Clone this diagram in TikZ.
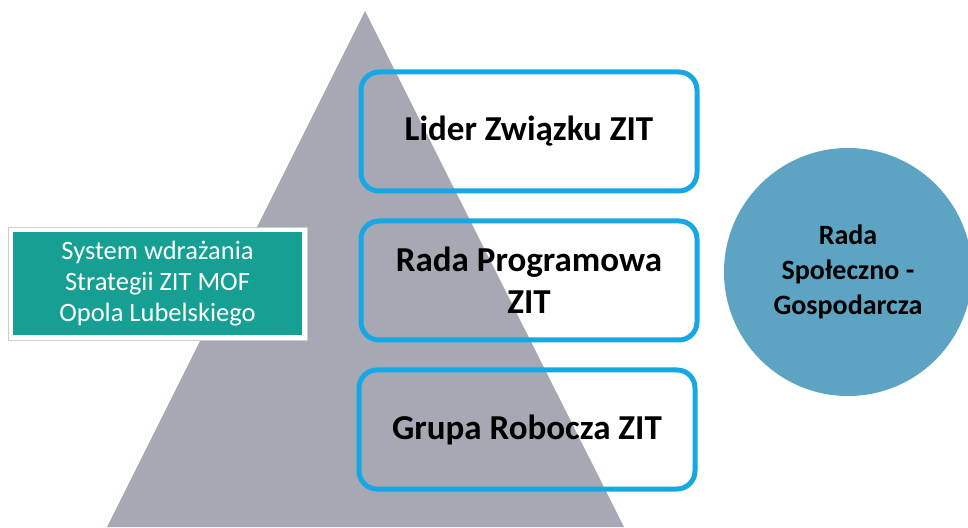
\documentclass[tikz,border=0pt]{standalone}
\usepackage{fontspec}
\setmainfont{Carlito}
\usetikzlibrary{positioning}

\definecolor{pyramid}{RGB}{166,169,180}
\definecolor{frameblue}{RGB}{22,168,228}
\definecolor{sysgreen}{RGB}{22,160,148}
\definecolor{council}{RGB}{92,164,193}

\begin{document}
\begin{tikzpicture}[x=1pt, y=1pt,
		level/.style={draw=frameblue, line width=5pt, rounded corners=18pt,
			minimum width=336pt, minimum height=119pt, align=center,
			font=\fontsize{35}{42}\selectfont\bfseries},
		sysbox/.style={fill=sysgreen, draw=white, line width=5pt, text=white,
			minimum width=294pt, minimum height=108pt, align=center,
			font=\fontsize{26.5}{31}\selectfont},
		round/.style={circle, fill=council, minimum size=248pt, align=center,
			font=\fontsize{28}{35}\selectfont\bfseries}]
		\useasboundingbox (0,0) rectangle (968,527);
		
		% piramida
		\coordinate (top) at (365,516);
		\coordinate (bl) at (107,0);
		\coordinate (br) at (624,0);
		\fill[pyramid] (top)--(br)--(bl)--cycle;
		
		\node[level] (lider) at (529,395.5) {Lider Związku ZIT};
		\node[level, below=25pt of lider] (rada) {Rada Programowa\\ZIT};
		\node[level, below=25pt of rada, xshift=-2pt] (grupa) {Grupa Robocza ZIT};
		
		\node[sysbox] (sys) at (157.5,243.5) {System wdrażania\\Strategii ZIT MOF\\Opola Lubelskiego};
		\draw[black!20, line width=0.8pt] (sys.north west) rectangle (sys.south east);
		
		\node[round] (rsg) at (848,255) {Rada\\Społeczno -\\Gospodarcza};
	\end{tikzpicture}
\end{document}
